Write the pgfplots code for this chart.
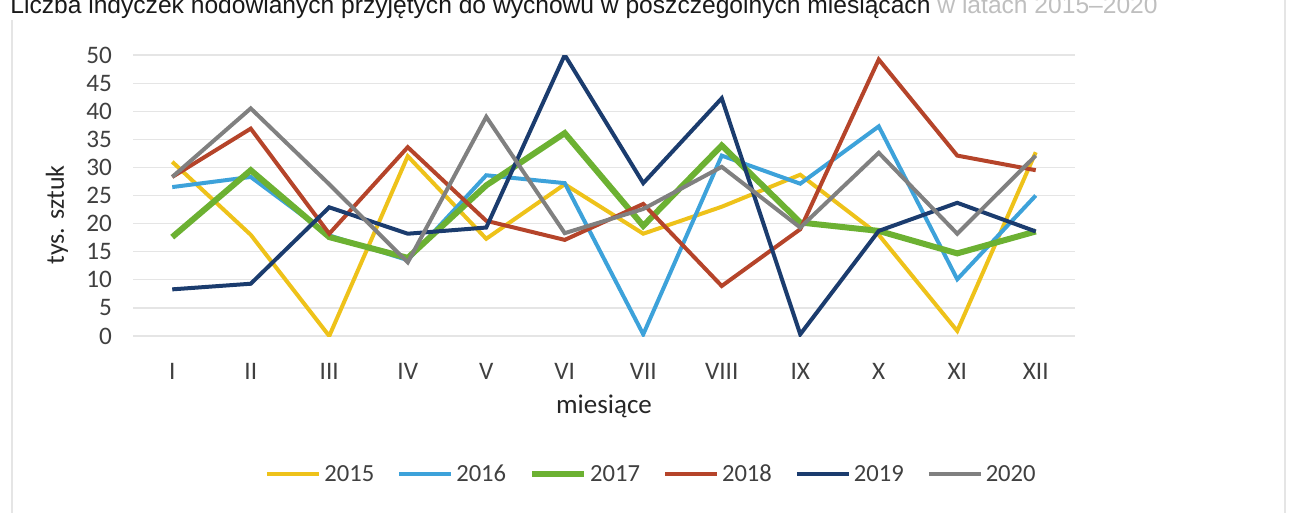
\documentclass[border=0pt]{standalone}
\usepackage{pgfplots}
\pgfplotsset{compat=1.18}
\usepackage{fontspec}
\setmainfont{Carlito}
\newfontfamily\titlefont{Liberation Sans}
\definecolor{c2015}{HTML}{EEC21A}
\definecolor{c2016}{HTML}{3DA2DA}
\definecolor{c2017}{HTML}{6CB132}
\definecolor{c2018}{HTML}{B5442A}
\definecolor{c2019}{HTML}{1B3C6E}
\definecolor{c2020}{HTML}{808080}
\definecolor{tickgray}{HTML}{404040}
\pgfplotstableread{
m    a2015 a2016 a2017 a2018 a2019 a2020
0    31.0  26.5  17.6  28.3   8.3  28.3
1    18.0  28.3  29.5  36.9   9.3  40.5
2     0.0  17.9  17.6  18.2  22.9  27.0
3    32.0  13.5  13.9  33.6  18.2  13.1
4    17.3  28.6  26.8  20.5  19.3  39.0
5    27.0  27.2  36.1  17.1  50.0  18.3
6    18.2   0.3  19.6  23.5  27.2  22.6
7    23.0  32.1  33.9   8.9  42.3  30.1
8    28.7  27.1  20.2  19.0   0.3  19.3
9    18.0  37.3  18.7  49.2  18.7  32.6
10    0.9  10.1  14.7  32.1  23.7  18.2
11   32.7  25.0  18.6  29.5  18.6  32.1
}\datatable
\begin{document}
\begin{tikzpicture}
\node[anchor=base west, font=\titlefont\fontsize{12.3}{14}\selectfont, text=black!90, inner sep=0pt] at (5pt,-7pt)
  {Liczba indyczek hodowlanych przyjętych do wychowu w poszczególnych miesiącach \textcolor{black!25}{w latach 2015–2020}};
\draw[black!10, line width=0.6pt] (6pt,-10pt) -- (6pt,-256.5pt);
\draw[black!10, line width=0.6pt] (642.5pt,0pt) -- (642.5pt,-256.5pt);
\begin{axis}[
  at={(66.5pt,-168pt)}, anchor=south west,
  scale only axis, width=471pt, height=140.5pt,
  xmin=-0.5, xmax=11.5, ymin=0, ymax=50,
  axis line style={draw=none},
  major tick length=0pt,
  xtick={0,...,11},
  xticklabels={I,II,III,IV,V,VI,VII,VIII,IX,X,XI,XII},
  ytick={0,5,...,50},
  ymajorgrids,
  grid style={black!10, line width=0.6pt},
  tick label style={font=\fontsize{12.6}{14}\selectfont, text=tickgray},
  /pgf/number format/assume math mode=true,
  yticklabel style={xshift=-7pt},
  xticklabel style={yshift=-10pt},
  legend style={at={(0.551,-0.491)}, anchor=center, legend columns=6, draw=none, fill=none,
    font=\fontsize{12.3}{14}\selectfont, text=tickgray,
    nodes={inner xsep=1.5pt, text height=1.6ex, text depth=0.1ex},
    /tikz/every even column/.append style={column sep=10pt}},
  legend image code/.code={\draw[#1] (0pt,0pt) -- (26pt,0pt);},
  every axis plot/.append style={line width=2pt, line join=miter},
]
\addplot[c2015] table[x=m,y=a2015] {\datatable};
\addlegendentry{2015}
\addplot[c2016] table[x=m,y=a2016] {\datatable};
\addlegendentry{2016}
\addplot[c2017, line width=3pt] table[x=m,y=a2017] {\datatable};
\addlegendentry{2017}
\addplot[c2018] table[x=m,y=a2018] {\datatable};
\addlegendentry{2018}
\addplot[c2019] table[x=m,y=a2019] {\datatable};
\addlegendentry{2019}
\addplot[c2020] table[x=m,y=a2020] {\datatable};
\addlegendentry{2020}
\end{axis}
\node[rotate=90, font=\fontsize{13}{15}\selectfont, text=black!85] at (28.5pt,-107.5pt) {tys. sztuk};
\node[font=\fontsize{13.5}{15}\selectfont, text=black!85] at (302pt,-203pt) {miesiące};
\pgfresetboundingbox
\path (0pt,0pt) rectangle (646pt,-256.5pt);
\end{tikzpicture}
\end{document}
